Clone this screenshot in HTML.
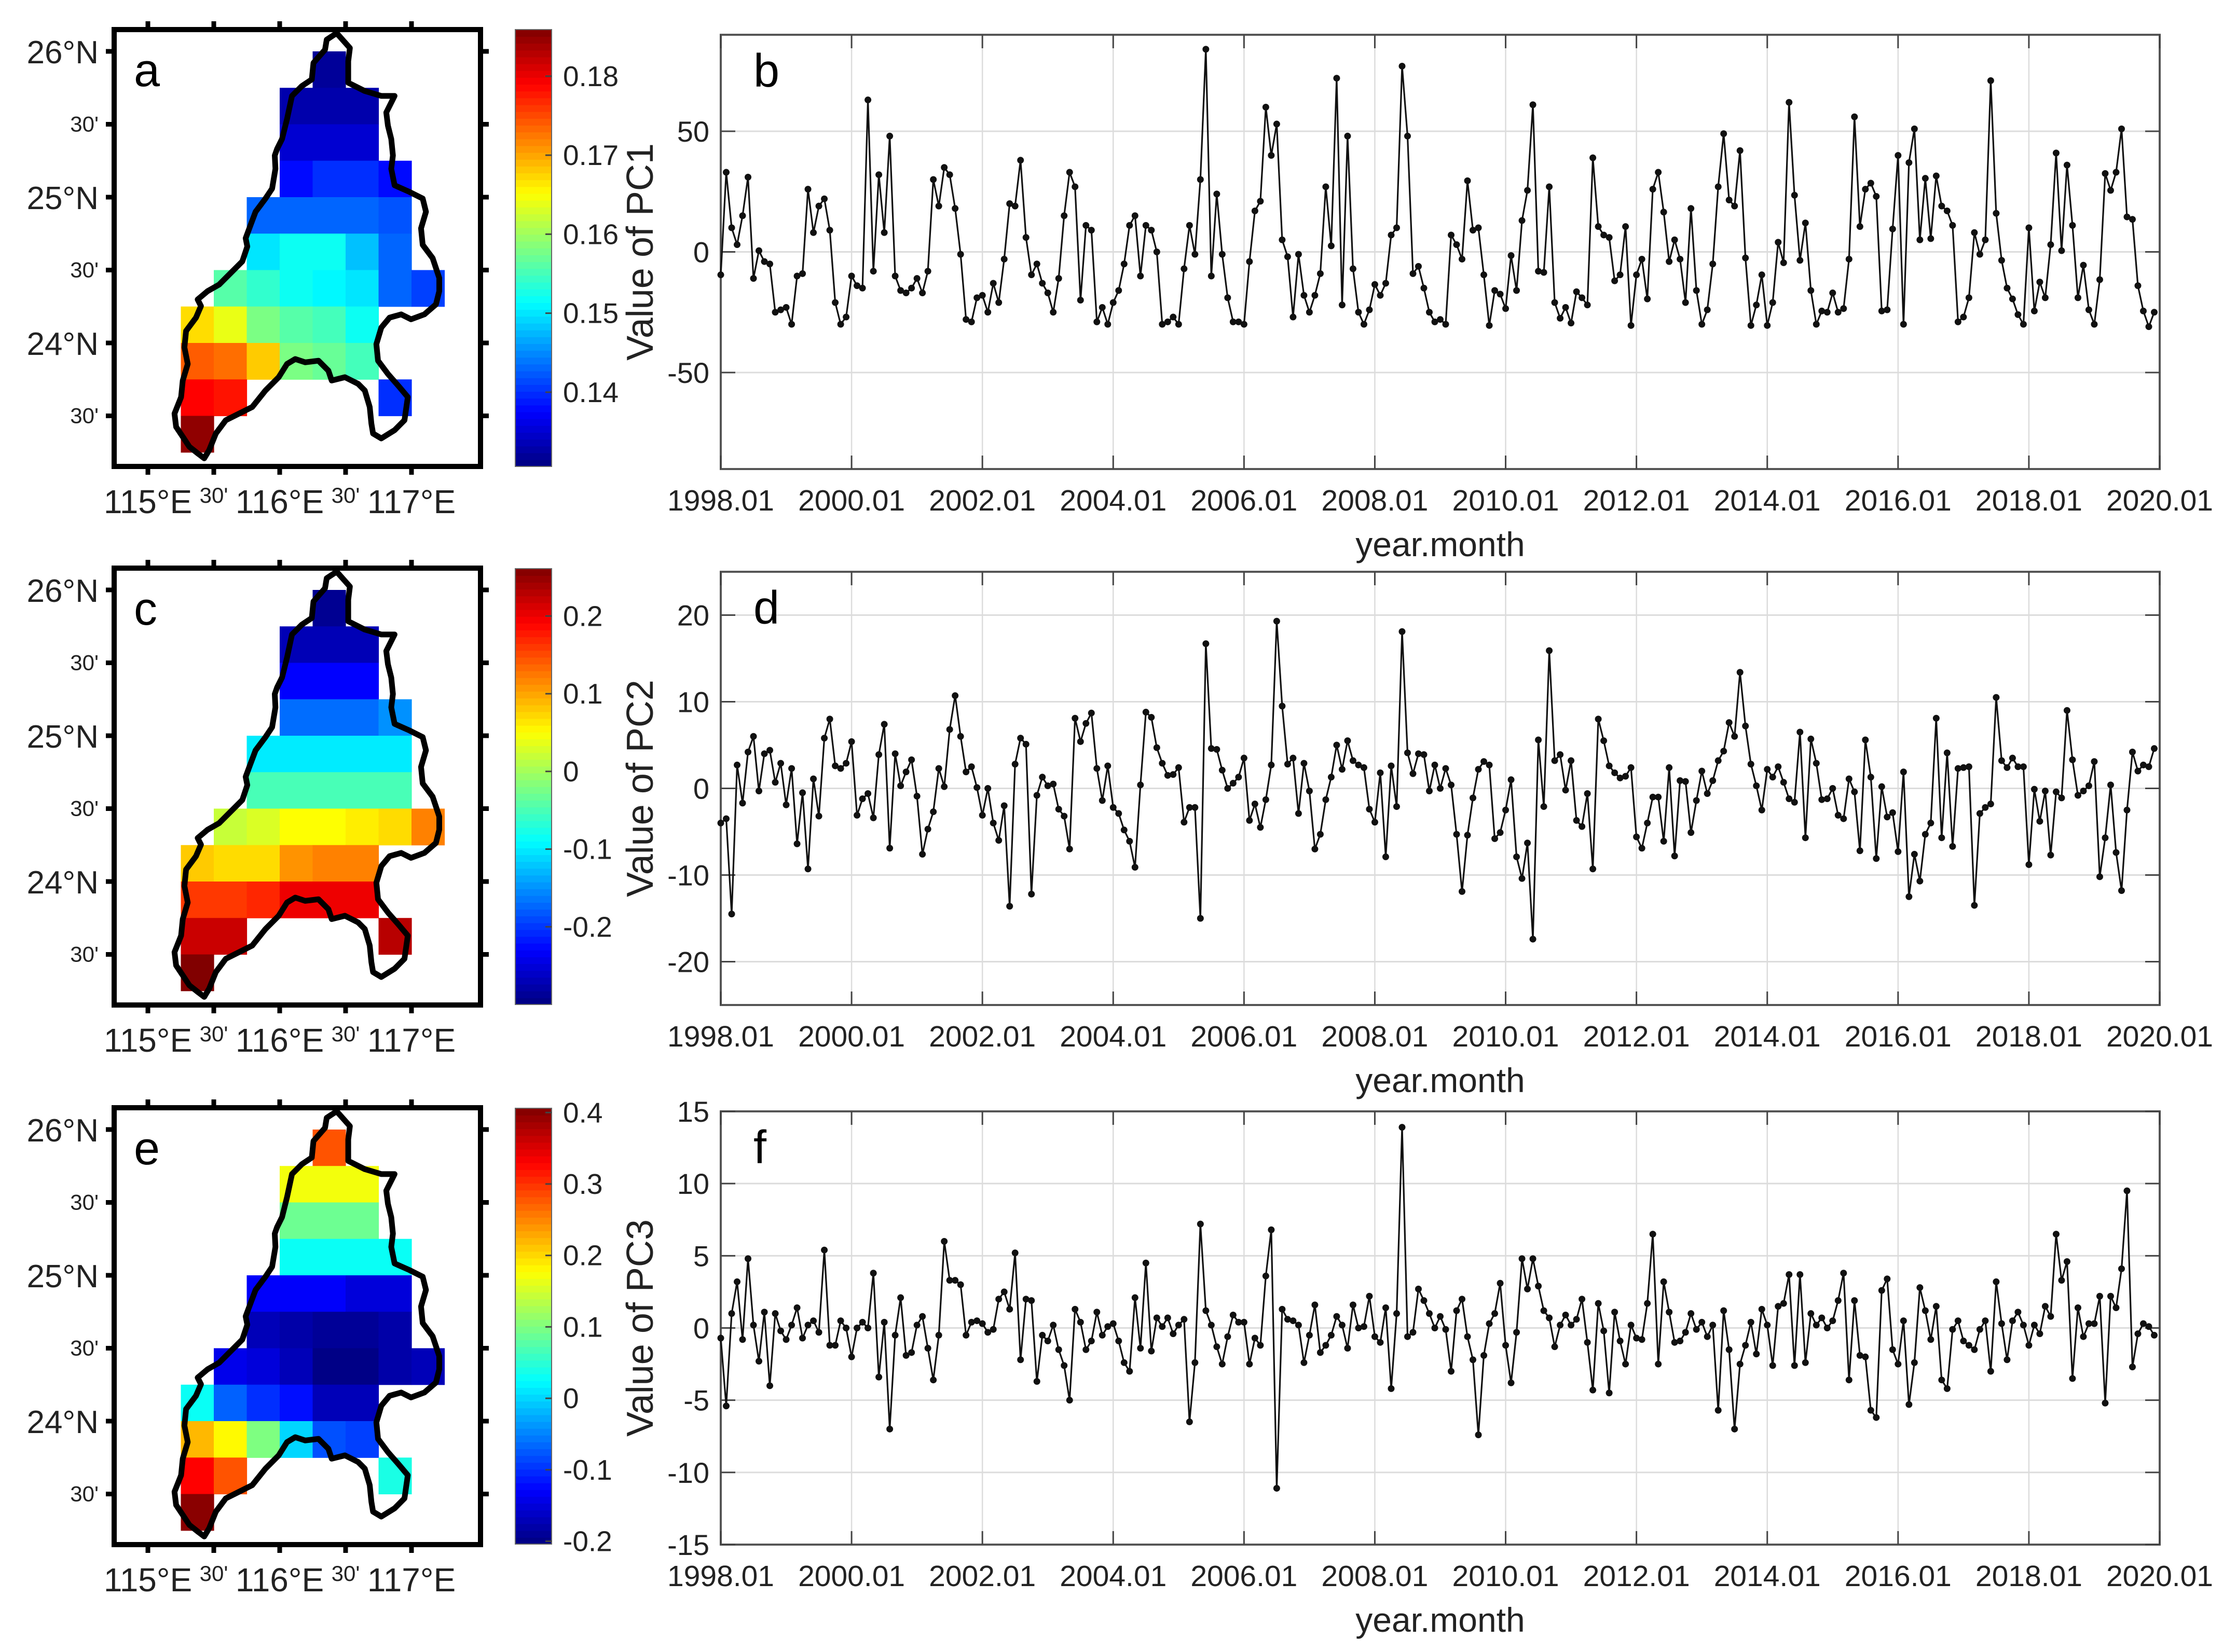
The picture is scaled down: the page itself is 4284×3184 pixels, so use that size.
<!DOCTYPE html>
<html><head><meta charset="utf-8"><title>PCA maps and PC time series</title>
<style>
html,body{margin:0;padding:0;background:#fff;}
svg{display:block;font-family:"Liberation Sans",Arial,sans-serif;}
</style></head>
<body>
<svg id="fig" width="4284" height="3184" viewBox="0 0 4284 3184" xmlns="http://www.w3.org/2000/svg">
<rect x="0" y="0" width="4284" height="3184" fill="#fff"/>
</svg>
<script>
// ---------------- DATA ----------------
const years = ["1998.01","2000.01","2002.01","2004.01","2006.01","2008.01","2010.01","2012.01","2014.01","2016.01","2018.01","2020.01"];
const pc1 = [-9.5,33,10,3,15,31,-11,0.5,-4,-5,-25,-24,-23,-30,-10,-9,26,8,19,22,9,-21,-30,-27,-10,-14,-15,63,-8,32,8,48,-10,-16,-17,-15,-11,-17,-8,30,19,35,32,18,-1,-28,-29,-19,-18,-25,-13,-21,-3,20,19,38,6,-9.5,-5,-13,-17,-25,-11,15,33,27,-20,11,9,-29,-23,-30,-21,-16,-5,11,15,-10,11,9,0,-30,-29,-27,-30,-7,11,-1,30,84,-10,24,-1,-19,-29,-29,-30,-4,17,21,60,40,53,5,-2,-27,-1,-18,-25,-18,-9,27,2.5,72,-22,48,-7,-25,-30,-24,-13.5,-18,-13,7,10,77,48,-9,-6,-15,-25,-29,-28,-30,7,3,-3,
29.5,9,10,-9.5,-30.5,-16,-17.5,-23.5,-1.5,-16,13,25.5,61,-8,-8.5,27,-21,-27.5,-23,-29.5,-16.5,-19,-22,39,10.5,7,6,-12,-9.5,10.5,-30.5,-9.5,-3,-19.5,26,33,16.5,-4,5,-3,-21,18,-16,-30,-24,-5,27,49,21.5,19,42,-2.5,-30.5,-22,-9.5,-30.5,-21,4,-4.5,62,23.5,-3.5,12,-16,-30,-24.5,-25,-17,-25,-23.5,-3,56,10.5,26,28.5,23,-24.5,-24,9.5,40,-30,37,51,5,30.5,5.5,31.5,19,17,11,-29,-27,-19,8,-1,5,71,16,-3.5,-15,-19.5,-26,-30,10,-24.5,-12.5,-19,3,41,0.5,36,11,-19,-5.5,-24,-30,-11.5,32.5,25.5,33,51,14.5,13.5,-14,-24.5,-31,-25];
const pc2 = [-4,-3.5,-14.5,2.7,-1.7,4.2,6,-0.3,4,4.4,0.7,2.9,-1.9,2.3,-6.4,-0.5,-9.3,1.1,-3.2,5.8,8,2.6,2.3,2.9,5.4,-3.1,-1.2,-0.6,-3.4,3.9,7.4,-6.9,4,0.3,1.9,3.3,-0.9,-7.6,-4.7,-2.7,2.3,0.2,6.8,10.7,6,1.9,2.5,0.1,-3.1,0,-4,-6,-2,-13.6,2.8,5.8,5.1,-12.2,-0.8,1.3,0.3,0.5,-2.4,-3.2,-7,8.1,5.4,7.5,8.7,2.3,-1.4,2.6,-2.2,-2.9,-4.8,-6.1,-9.1,0.4,8.8,8.2,4.7,2.9,1.5,1.6,2.4,-3.9,-2.2,-2.2,-15,16.7,4.6,4.5,2.1,0,0.6,1.3,3.5,-3.7,-1.8,-4.5,-1.3,2.7,19.3,9.5,2.8,3.5,-2.9,2.9,-0.3,-7,-5.3,-1.3,1.3,5,2.2,5.5,3.2,2.7,2.4,-2.4,-3.9,1.8,-7.9,2.6,-2.1,18.1,4.1,1.7,4,3.9,-0.3,2.7,0,2.3,0.4,-5.3,-11.9,
-5.4,-1.1,2.2,3.1,2.7,-5.8,-5.1,-2.5,1,-7.9,-10.4,-6.3,-17.4,5.6,-2.1,15.9,3.2,3.9,-0.2,3.2,-3.7,-4.4,-0.6,-9.3,8,5.5,2.6,1.8,1.2,1.4,2.4,-5.6,-6.9,-4,-1,-1,-6.1,2.4,-7.8,0.9,0.8,-5.1,-1.4,2,-0.6,0.9,3.2,4.3,7.6,6,13.4,7.2,2.8,0.3,-2.5,2.2,1.3,2.5,0.7,-1.2,-1.6,6.5,-5.7,5.7,2.9,-1.3,-1.2,0,-3.1,-3.5,1.1,-0.4,-7.2,5.6,1.3,-8.1,0.2,-3.3,-2.8,-7.3,1.9,-12.5,-7.6,-10.7,-5.3,-4,8.1,-5.7,4.1,-6.7,2.3,2.4,2.5,-13.5,-2.9,-2.2,-1.8,10.5,3.2,2.4,3.5,2.5,2.5,-8.8,-0.1,-3.8,-0.3,-7.7,-0.4,-1.1,9,3.3,-0.8,-0.3,0.3,3.1,-10.2,-5.7,0.4,-7.4,-11.8,-2.5,4.2,2,2.7,2.5,4.6];
const pc3 = [-0.7,-5.4,1,3.2,-0.8,4.8,0.2,-2.3,1.1,-4,1,-0.2,-0.8,0.2,1.4,-0.7,0.2,0.5,-0.3,5.4,-1.2,-1.2,0.5,0,-2,0,0.4,0,3.8,-3.4,0.4,-7,-0.5,2.1,-1.9,-1.7,0.2,0.8,-1.4,-3.6,-0.5,6,3.3,3.3,3,-0.5,0.4,0.5,0.3,-0.3,-0.1,2,2.5,1.3,5.2,-2.2,2,1.9,-3.7,-0.5,-0.9,0.2,-1.5,-2.6,-5,1.3,0.4,-1.5,-0.9,1.1,-0.5,0.1,0.3,-0.9,-2.4,-3,2.1,-1.4,4.5,-1.6,0.7,0.1,0.7,-0.4,0.2,0.6,-6.5,-2.4,7.2,1.2,0.2,-1.3,-2.5,-0.6,0.9,0.4,0.4,-2.5,-0.7,-1.2,3.6,6.8,-11.1,1.3,0.6,0.5,0.2,-2.4,-0.5,1.6,-1.7,-1.2,-0.5,0.8,0.2,-1.4,1.6,0,0.1,2.2,-0.6,-1,1.4,-4.2,1,13.9,-0.6,-0.3,2.7,1.9,1,0,0.8,-0.1,-3,1.2,2,
-0.6,-2.2,-7.4,-1.9,0.3,1,3.1,-1.2,-3.8,-0.3,4.8,2.7,4.8,2.9,1.2,0.7,-1.3,0.2,0.9,0.2,0.6,2,-1,-4.3,1.7,-0.2,-4.5,1.1,-0.9,-2.5,0.2,-0.7,-0.8,1.7,6.5,-2.5,3.2,1.1,-1,-0.9,-0.3,1,-0.1,0.4,-0.6,0.2,-5.7,1.2,-1.5,-7,-2.5,-1.2,0.4,-1.8,1.3,0.2,-2.6,1.5,1.7,3.7,-2.6,3.7,-2.4,1,0.2,0.7,0,0.5,1.9,3.8,-3.6,1.9,-1.9,-2,-5.7,-6.2,2.6,3.4,-1.5,-2.5,0.5,-5.3,-2.4,2.8,1.2,-0.8,1.5,-3.6,-4.2,-0.1,0.5,-0.9,-1.2,-1.5,-0.1,0.5,-3,3.2,0.3,-2.2,0.5,1.1,0.2,-1.2,0.2,-0.4,1.5,0.8,6.5,3.3,4.6,-3.5,1.4,-0.6,0.3,0.3,2.2,-5.2,2.2,1.4,4.1,9.5,-2.7,-0.4,0.3,0.1,-0.5];
const pc1Ticks = [50,0,-50];
const pc2Ticks = [20,10,0,-10,-20];
const pc3Ticks = [15,10,5,0,-5,-10,-15];
const n = null;
const map1 = [
 [n,n,n,n,0.132,n,n,n],
 [n,n,n,0.133,0.133,0.133,n,n],
 [n,n,n,0.135,0.135,0.135,n,n],
 [n,n,n,0.138,0.140,0.140,0.138,n],
 [n,n,0.143,0.143,0.143,0.143,0.142,n],
 [n,n,0.150,0.152,0.152,0.148,0.143,n],
 [n,0.156,0.154,0.152,0.151,0.150,0.143,0.141],
 [0.167,0.164,0.158,0.156,0.155,0.152,n,n],
 [0.174,0.173,0.168,0.158,0.157,0.155,n,n],
 [0.179,0.178,n,n,n,n,0.140,n],
 [0.185,n,n,n,n,n,n,n]];
const map2 = [
 [n,n,n,n,-0.29,n,n,n],
 [n,n,n,-0.27,-0.27,-0.27,n,n],
 [n,n,n,-0.23,-0.23,-0.23,n,n],
 [n,n,n,-0.17,-0.17,-0.17,-0.15,n],
 [n,n,-0.10,-0.10,-0.10,-0.10,-0.10,n],
 [n,n,-0.05,-0.05,-0.05,-0.05,-0.05,n],
 [n,0.02,0.03,0.05,0.05,0.06,0.07,0.12],
 [0.08,0.07,0.07,0.11,0.12,0.12,n,n],
 [0.16,0.16,0.17,0.20,0.20,0.20,n,n],
 [0.22,0.22,n,n,n,n,0.23,n],
 [0.26,n,n,n,n,n,n,n]];
const map3 = [
 [n,n,n,n,0.28,n,n,n],
 [n,n,n,0.17,0.17,0.17,n,n],
 [n,n,n,0.09,0.09,0.09,n,n],
 [n,n,n,0.03,0.03,0.03,0.03,n],
 [n,n,-0.13,-0.13,-0.13,-0.15,-0.15,n],
 [n,n,-0.17,-0.18,-0.19,-0.19,-0.18,n],
 [n,-0.14,-0.15,-0.17,-0.20,-0.20,-0.18,-0.17],
 [0.03,-0.07,-0.10,-0.12,-0.17,-0.17,n,n],
 [0.22,0.18,0.10,0.00,-0.08,-0.09,n,n],
 [0.33,0.28,n,n,n,n,0.04,n],
 [0.40,n,n,n,n,n,n,n]];
const cb1Ticks = [0.18,0.17,0.16,0.15,0.14];
const cb2Ticks = [0.2,0.1,0,-0.1,-0.2];
const cb3Ticks = [0.4,0.3,0.2,0.1,0,-0.1,-0.2];

// ---------------- HELPERS ----------------
const svg = document.getElementById('fig');
const NS = 'http://www.w3.org/2000/svg';
function mk(tag, attrs, parent){
  const e = document.createElementNS(NS, tag);
  for (const k in attrs) e.setAttribute(k, attrs[k]);
  (parent||svg).appendChild(e);
  return e;
}
function jet(t){
  t = Math.max(0, Math.min(1, t));
  const c = v => Math.round(255*Math.max(0, Math.min(1, v)));
  return `rgb(${c(1.5-Math.abs(4*t-3))},${c(1.5-Math.abs(4*t-2))},${c(1.5-Math.abs(4*t-1))})`;
}

// ---------------- TIME SERIES ----------------
const X0 = 1389, X1 = 4162;
function xScale(i){ return X0 + (X1 - X0) * i / 264; }
function drawSeries(cfg){
  const {top, bot, ymin, ymax, data, ticks, letter, label, name} = cfg;
  const ys = v => bot - (v - ymin) / (ymax - ymin) * (bot - top);
  const g = mk('g', {});
  
  
  years.forEach((yr, k) => {
    const x = X0 + (X1 - X0) * k / 11;
    const gl = mk('line', {x1:x, x2:x, y1:top, y2:bot, stroke:'#dcdcdc', 'stroke-width':2.5}, g);
    
    
  });
  ticks.forEach(v => {
    const y = ys(v);
    const gl = mk('line', {x1:X0, x2:X1, y1:y, y2:y, stroke:'#dcdcdc', 'stroke-width':3}, g);
    
    
  });
  const fr = mk('rect', {x:X0, y:top, width:X1-X0, height:bot-top, fill:'none', stroke:'#555', 'stroke-width':4}, g);
  
  
  years.forEach((yr, k) => {
    const x = X0 + (X1 - X0) * k / 11;
    mk('line', {x1:x, x2:x, y1:bot, y2:bot-26, stroke:'#444', 'stroke-width':3}, g);
    mk('line', {x1:x, x2:x, y1:top, y2:top+26, stroke:'#444', 'stroke-width':3}, g);
    const t = mk('text', {x:x, y:bot+80, 'font-size':57, 'text-anchor':'middle', fill:'#222'}, g);
    t.textContent = yr;
    
    
  });
  ticks.forEach(v => {
    const y = ys(v);
    mk('line', {x1:X0, x2:X0+28, y1:y, y2:y, stroke:'#444', 'stroke-width':3}, g);
    mk('line', {x1:X1, x2:X1-28, y1:y, y2:y, stroke:'#444', 'stroke-width':3}, g);
    const t = mk('text', {x:X0-22, y:y+20, 'font-size':56, 'text-anchor':'end', fill:'#222'}, g);
    t.textContent = String(v);
    
    
  });
  const xt = mk('text', {x:(X0+X1)/2, y:bot+168, 'font-size':66, 'text-anchor':'middle', fill:'#222'}, g);
  xt.textContent = 'year.month';
  
  
  const cy = (top+bot)/2;
  const yt = mk('text', {x:1258, y:cy, 'font-size':72, 'text-anchor':'middle', fill:'#222', transform:`rotate(-90 1258 ${cy})`}, g);
  yt.textContent = label;
  
  
  const lt = mk('text', {x:1452, y:top+100, 'font-size':90, fill:'#000'}, g);
  lt.textContent = letter;
  
  
  const pts = data.map((v,i) => xScale(i).toFixed(1) + ',' + ys(v).toFixed(1)).join(' ');
  const pl = mk('polyline', {points:pts, fill:'none', stroke:'#111', 'stroke-width':3.2}, g);
  
  
  data.forEach((v,i) => {
    const c = mk('circle', {cx:xScale(i), cy:ys(v), r:6.5, fill:'#111'}, g);
    
    
  });
}
drawSeries({top:67, bot:904, ymin:-90, ymax:90, data:pc1, ticks:pc1Ticks, letter:'b', label:'Value of PC1', name:'pc1'});
drawSeries({top:1102, bot:1937, ymin:-25, ymax:25, data:pc2, ticks:pc2Ticks, letter:'d', label:'Value of PC2', name:'pc2'});
drawSeries({top:2142, bot:2977, ymin:-15, ymax:15, data:pc3, ticks:pc3Ticks, letter:'f', label:'Value of PC3', name:'pc3'});

// ---------------- MAPS ----------------
const outlineZ = [[735,100],[775,145],[770,185],[770,250],[820,275],[870,290],[910,290],[885,340],[890,380],[900,420],[905,470],[900,510],[910,560],[955,580],[995,600],[1005,640],[990,690],[995,740],[1025,780],[1045,840],[1045,880],[1035,920],[1000,950],[960,965],[930,950],[895,960],[870,990],[855,1040],[860,1090],[890,1130],[925,1170],[950,1200],[940,1270],[910,1300],[870,1325],[845,1310],[840,1280],[835,1230],[820,1180],[800,1160],[760,1140],[720,1150],[710,1120],[680,1090],[640,1095],[610,1085],[585,1100],[560,1140],[520,1180],[480,1230],[440,1250],[400,1270],[370,1310],[350,1360],[335,1385],[315,1370],[290,1350],[270,1320],[250,1290],[245,1250],[265,1200],[270,1150],[285,1100],[275,1050],[280,1000],[310,960],[325,925],[315,905],[345,880],[380,860],[410,830],[450,790],[465,745],[460,720],[475,680],[490,640],[520,600],[540,570],[550,510],[548,470],[555,450],[570,420],[585,360],[600,290],[630,260],[660,240],[665,190],[700,150],[705,120]];
function drawMap(cfg){
  const {dy, grid, vmin, vmax, cbTop, cbBot, cbTicks, letter, name} = cfg;
  const lonX = lon => 285 + (lon - 115) * 254;
  const latY = lat => dy + 99 + (26 - lat) * 281;
  const g = mk('g', {});
  
  
  const BX0 = 220, BX1 = 926, BY0 = dy + 57, BY1 = dy + 899;
  grid.forEach((row, r) => row.forEach((v, c) => {
    if (v === null) return;
    const x = lonX(115.25 + 0.25*c), y = latY(26 - 0.25*r);
    const rc = mk('rect', {x:x, y:y, width:lonX(115.5+0.25*c)-x+0.6, height:latY(25.75-0.25*r)-y+0.6, fill:jet((v-vmin)/(vmax-vmin))}, g);
    
    
  }));
  const op = outlineZ.map(p => (180 + p[0]/1.568).toFixed(1) + ',' + (dy + p[1]/1.568).toFixed(1)).join(' ');
  const ol = mk('polygon', {points:op, fill:'none', stroke:'#000', 'stroke-width':11, 'stroke-linejoin':'round'}, g);
  
  
  const fr = mk('rect', {x:BX0, y:BY0, width:BX1-BX0, height:BY1-BY0, fill:'none', stroke:'#000', 'stroke-width':10}, g);
  
  
  const lonTicks = [115, 115.5, 116, 116.5, 117];
  const lonLabels = ['115°E', "30'", '116°E', "30'", '117°E'];
  lonTicks.forEach((lon, k) => {
    const x = lonX(lon);
    mk('line', {x1:x, x2:x, y1:BY0, y2:BY0-16, stroke:'#000', 'stroke-width':9}, g);
    mk('line', {x1:x, x2:x, y1:BY1, y2:BY1+16, stroke:'#000', 'stroke-width':9}, g);
    const small = lonLabels[k].length < 4;
    const t = mk('text', {x:x, y: small ? BY1+70 : BY1+90, 'font-size': small ? 42 : 64, 'text-anchor':'middle', fill:'#222'}, g);
    t.textContent = lonLabels[k];
    
    
  });
  const latTicks = [26, 25.5, 25, 24.5, 24, 23.5];
  const latLabels = ['26°N', "30'", '25°N', "30'", '24°N', "30'"];
  latTicks.forEach((lat, k) => {
    const y = latY(lat);
    mk('line', {x1:BX0, x2:BX0-16, y1:y, y2:y, stroke:'#000', 'stroke-width':9}, g);
    mk('line', {x1:BX1, x2:BX1+16, y1:y, y2:y, stroke:'#000', 'stroke-width':9}, g);
    const small = latLabels[k].length < 4;
    const t = mk('text', {x: 190, y: small ? y+14 : y+23, 'font-size': small ? 42 : 62, 'text-anchor':'end', fill:'#222'}, g);
    t.textContent = latLabels[k];
    
    
  });
  const lt = mk('text', {x:258, y:dy+166, 'font-size':90, fill:'#000'}, g);
  lt.textContent = letter;
  
  
  const cg = mk('g', {}, g);
  
  
  const steps = 64, h = (cbBot - cbTop) / steps;
  for (let i = 0; i < steps; i++) {
    mk('rect', {x:993, y:cbBot - (i+1)*h, width:70, height:h+0.8, fill:jet((i+0.5)/steps)}, cg);
  }
  mk('rect', {x:993, y:cbTop, width:70, height:cbBot-cbTop, fill:'none', stroke:'#666', 'stroke-width':2}, cg);
  cbTicks.forEach(v => {
    const y = cbBot - (v - vmin) / (vmax - vmin) * (cbBot - cbTop);
    mk('line', {x1:1063, x2:1051, y1:y, y2:y, stroke:'#444', 'stroke-width':3}, cg);
    const t = mk('text', {x:1085, y:y+19, 'font-size':55, fill:'#222'}, cg);
    t.textContent = String(v);
    
    
  });
}
drawMap({dy:0, grid:map1, vmin:0.1306, vmax:0.1859, cbTop:57, cbBot:899, cbTicks:cb1Ticks, letter:'a', name:'pc1'});
drawMap({dy:1038, grid:map2, vmin:-0.30, vmax:0.261, cbTop:1096, cbBot:1936, cbTicks:cb2Ticks, letter:'c', name:'pc2'});
drawMap({dy:2078, grid:map3, vmin:-0.204, vmax:0.406, cbTop:2136, cbBot:2976, cbTicks:cb3Ticks, letter:'e', name:'pc3'});
</script>
</body></html>
